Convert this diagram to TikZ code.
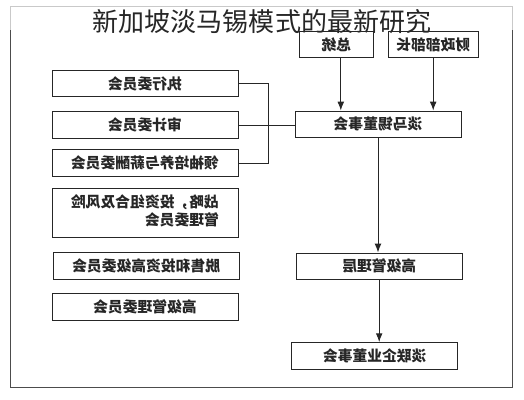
\documentclass[tikz,border=0pt]{standalone}
\usepackage{fontspec}
\usepackage{graphicx}
\usetikzlibrary{positioning,arrows.meta}
\newfontfamily\cjk{Noto Sans CJK SC}
\newcommand{\mirr}[1]{\reflectbox{#1}}
\begin{document}
\begin{tikzpicture}[node distance=1cm,
  box/.style={draw=black!85, line width=0.7pt, rectangle, inner sep=2pt,
    minimum width=4.65cm, minimum height=0.67cm,
    font=\cjk\bfseries\fontsize{10.5}{13}\selectfont, text=black!85},
  rbox/.style={box, minimum width=4.15cm},
  link/.style={draw=black!85, line width=0.7pt},
  arr/.style={link, -{Latex[length=2.2mm,width=1.7mm]}}]
  \useasboundingbox (0,0) rectangle (13.1,-10);
  \draw[black!70, line width=0.6pt] (0.25,-0.15) rectangle (12.8,-9.675);
  \node[box] (exec) at (3.625,-2.0875) {\mirr{执行委员会}};
  \node[box, below of=exec, node distance=1.04cm] (audit) {\mirr{审计委员会}};
  \node[box, below of=audit, node distance=0.95cm] (lead) {\mirr{领袖培养与薪酬委员会}};
  \node[box, below of=lead, node distance=1.24cm, minimum height=1.225cm] (strat)
    {\mirr{\begin{tabular}{@{}l@{}}战略，投资组合及风险\\管理委员会\end{tabular}}};
  \node[box, below of=strat, node distance=1.34cm, xshift=0.03cm] (divest) {\mirr{脱售和投资高级委员会}};
  \node[box, below of=divest, node distance=1.01cm, xshift=-0.03cm] (senior) {\mirr{高级管理委员会}};
  \node[rbox, minimum height=0.65cm] (board) at (9.45,-3.1) {\mirr{淡马锡董事会}};
  \node[rbox, below of=board, node distance=3.56cm, xshift=0.03cm] (mgmt) {\mirr{高级管理层}};
  \node[rbox, below of=mgmt, node distance=2.24cm, xshift=-0.11cm] (linked) {\mirr{淡联企业董事会}};
  \node[box, minimum width=1.83cm, minimum height=0.63cm] (pres) at (8.41,-1.11) {\mirr{总统}};
  \node[box, minimum width=2.25cm, minimum height=0.63cm] (minister) at (10.83,-1.11) {\mirr{财政部部长}};
  \coordinate (bus) at (6.7,0);
  \draw[link] (exec.east) -- (exec.east -| bus) -- (lead.east -| bus) -- (lead.east);
  \draw[link] (audit.east) -- (audit.east -| board.west);
  \draw[arr] ([xshift=0.11cm]pres.south) -- ([xshift=0.11cm]pres.south |- board.north);
  \draw[arr] (minister.south) -- (minister.south |- board.north);
  \draw[arr] (board.south) -- (board.south |- mgmt.north);
  \draw[arr] (mgmt.south) -- (mgmt.south |- linked.north);
  \fill[white, opacity=0.7] (0,0) rectangle (13.1,-0.75);
  \node[font=\cjk\fontsize{18.5}{20}\selectfont, text=black!85] (title) at (6.55,-0.55) {新加坡淡马锡模式的最新研究};
\end{tikzpicture}
\end{document}
